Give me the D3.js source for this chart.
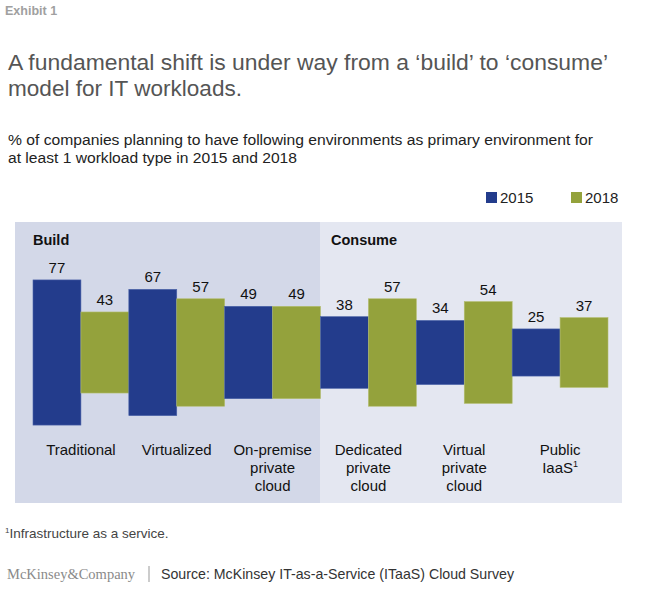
<!DOCTYPE html>
<html>
<head>
<meta charset="utf-8">
<script src="https://cdn.jsdelivr.net/npm/d3@7"></script>
<style>
  html, body { margin: 0; padding: 0; background: #fff; }
  svg { display: block; font-family: "Liberation Sans", Arial, Helvetica, sans-serif; }
</style>
</head>
<body>
<script>
const categories = [
  ["Traditional"],
  ["Virtualized"],
  ["On-premise", "private", "cloud"],
  ["Dedicated", "private", "cloud"],
  ["Virtual", "private", "cloud"],
  ["Public", "IaaS"]
];
const categoryKeys = ["Traditional", "Virtualized", "On-premise private cloud", "Dedicated private cloud", "Virtual private cloud", "Public IaaS"];
const groups = ["Build", "Build", "Build", "Consume", "Consume", "Consume"];
const seriesNames = ["2015", "2018"];
const values2015 = [77, 67, 49, 38, 34, 25];
const values2018 = [43, 57, 49, 57, 54, 37];

const colors = { "2015": "#233c8c", "2018": "#94a23c" };

const W = 647, H = 601;
const svg = d3.select("body").append("svg").attr("width", W).attr("height", H);

// Header texts
svg.append("text").attr("x", 5).attr("y", 15).text("Exhibit 1")
  .attr("font-size", 12.5).attr("font-weight", "bold").attr("fill", "#a0a0a0")
  .attr("font-family", "'Liberation Sans Narrow', 'Liberation Sans', Arial, sans-serif");

const titleLines = ["A fundamental shift is under way from a \u2018build\u2019 to \u2018consume\u2019", "model for IT workloads."];
const titleWidths = [600, 234];
svg.append("g").selectAll("text").data(titleLines).join("text")
  .attr("x", 8).attr("y", (d, i) => 70 + i * 26)
  .attr("font-size", 22.5).attr("fill", "#555")
  .attr("textLength", (d, i) => titleWidths[i]).attr("lengthAdjust", "spacingAndGlyphs")
  .text(d => d);

const subLines = ["% of companies planning to have following environments as primary environment for", "at least 1 workload type in 2015 and 2018"];
const subWidths = [585, 289];
svg.append("g").selectAll("text").data(subLines).join("text")
  .attr("x", 8).attr("y", (d, i) => 145 + i * 18)
  .attr("font-size", 15.5).attr("fill", "#222")
  .attr("textLength", (d, i) => subWidths[i]).attr("lengthAdjust", "spacingAndGlyphs")
  .text(d => d);

// Legend
const legendX = { "2015": 486, "2018": 571 };
const lg = svg.append("g").selectAll("g").data(seriesNames).join("g")
  .attr("transform", d => `translate(${legendX[d]},192)`);
lg.append("rect").attr("width", 11).attr("height", 11).attr("fill", d => colors[d]);
lg.append("text").attr("x", 14).attr("y", 11).attr("font-size", 15).attr("fill", "#222").text(d => d);

// Panels
const x0 = d3.scaleBand().domain(categoryKeys).range([33, 608]).padding(0);
const x1 = d3.scaleBand().domain(seriesNames).range([0, x0.bandwidth()]).padding(0);
const h = d3.scaleLinear().domain([0, 100]).range([0, 188.5]);
const yMid = 352.5;

const panelTop = 222, panelBottom = 503;
const panels = [
  { name: "Build", x: 15, x2: 320, fill: "#d3d8e8" },
  { name: "Consume", x: 320, x2: 622, fill: "#e4e7f1" }
];
svg.append("g").selectAll("rect").data(panels).join("rect")
  .attr("x", d => d.x).attr("y", panelTop).attr("width", d => d.x2 - d.x).attr("height", panelBottom - panelTop)
  .attr("fill", d => d.fill);
svg.append("g").selectAll("text").data(panels).join("text")
  .attr("x", d => d.name === "Build" ? 33 : 331).attr("y", 245)
  .attr("font-size", 14.5).attr("font-weight", "bold").attr("fill", "#111").text(d => d.name);

// Bars
const data = categoryKeys.map((c, i) => ({ cat: c, vals: [
  { s: "2015", v: values2015[i] }, { s: "2018", v: values2018[i] }
]}));
const gCat = svg.append("g").selectAll("g").data(data).join("g")
  .attr("transform", d => `translate(${x0(d.cat)},0)`);
gCat.selectAll("rect").data(d => d.vals).join("rect")
  .attr("x", d => x1(d.s)).attr("width", x1.bandwidth())
  .attr("y", d => yMid - h(d.v) / 2).attr("height", d => h(d.v))
  .attr("fill", d => colors[d.s])
  .attr("stroke", d => d.s === "2015" ? "#4a62a8" : "#b3bd6e").attr("stroke-width", 0.6);
gCat.selectAll("text.val").data(d => d.vals).join("text").attr("class", "val")
  .attr("x", d => x1(d.s) + x1.bandwidth() / 2)
  .attr("y", d => yMid - h(d.v) / 2 - 7)
  .attr("text-anchor", "middle").attr("font-size", 15).attr("fill", "#111").text(d => d.v);

// Category labels
gCat.each(function(d, i) {
  const t = d3.select(this).append("text")
    .attr("text-anchor", "middle").attr("font-size", 15).attr("fill", "#111");
  categories[i].forEach((line, j) => {
    t.append("tspan").attr("x", x0.bandwidth() / 2).attr("y", 455 + j * 18).text(line);
  });
  if (d.cat === "Public IaaS") {
    t.append("tspan").attr("dy", -6).attr("font-size", 9).text("1");
  }
});

// Footnote & source
const fn = svg.append("text").attr("x", 5).attr("y", 538).attr("font-size", 13.5).attr("fill", "#444");
fn.append("tspan").attr("font-size", 8).attr("dy", -5).text("1");
fn.append("tspan").attr("dy", 5).text("Infrastructure as a service.");

svg.append("text").attr("x", 7).attr("y", 579).attr("font-size", 14.5)
  .attr("font-family", "'Liberation Serif', 'Times New Roman', serif").attr("fill", "#8a8a8a")
  .text("McKinsey&Company");
svg.append("line").attr("x1", 149).attr("x2", 149).attr("y1", 566).attr("y2", 582).attr("stroke", "#999").attr("stroke-width", 1);
svg.append("text").attr("x", 161).attr("y", 579).attr("font-size", 14.2).attr("fill", "#333")
  .attr("textLength", 353).attr("lengthAdjust", "spacingAndGlyphs")
  .text("Source: McKinsey IT-as-a-Service (ITaaS) Cloud Survey");
</script>
</body>
</html>
